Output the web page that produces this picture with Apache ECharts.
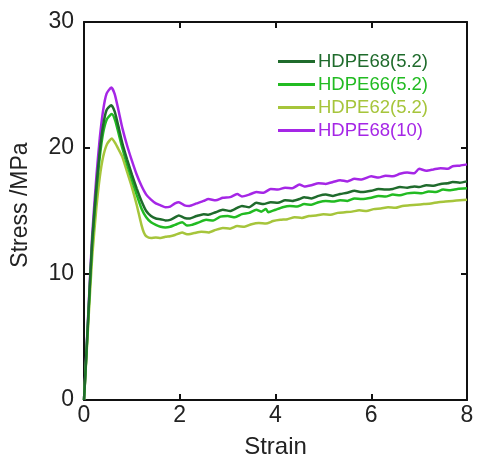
<!DOCTYPE html>
<html>
<head>
<meta charset="utf-8">
<script src="https://cdn.jsdelivr.net/npm/echarts@6/dist/echarts.min.js"></script>
<style>
  html, body { margin: 0; padding: 0; background: #fff; }
  #chart { width: 477px; height: 464px; }
</style>
</head>
<body>
<div id="chart"></div>
<script>
// names of the samples, in legend order
var seriesNames = ['HDPE68(5.2)', 'HDPE66(5.2)', 'HDPE62(5.2)', 'HDPE68(10)'];
var seriesColors = ['#1f6b2c', '#22bb22', '#a6c53b', '#a526e6'];

var xTicks = [0, 2, 4, 6, 8];
var yTicks = [0, 10, 20, 30];

// [strain, stress]
var hdpe68_52 = [
  [0,0],[0.05,3.7],[0.1,7.5],[0.17,12.6],[0.26,17.0],[0.33,19.8],[0.4,21.8],[0.47,23.0],[0.57,23.4],
  [0.64,22.9],[0.72,21.7],[0.8,20.4],[0.9,19.1],[1.0,17.9],[1.1,16.8],[1.2,15.8],[1.3,15.0],[1.4,14.6],[1.5,14.4],
  [1.6,14.35],[1.7,14.25],[1.8,14.3],[1.9,14.5],[1.98,14.65],[2.1,14.45],[2.2,14.4],[2.35,14.6],[2.5,14.75],[2.6,14.7],
  [2.75,14.9],[2.9,15.1],[3.05,15.0],[3.2,15.25],[3.3,15.4],[3.45,15.3],[3.6,15.65],[3.75,15.55],[3.9,15.7],[4.05,15.65],
  [4.2,15.85],[4.35,15.8],[4.5,15.95],[4.6,16.1],[4.75,16.0],[4.9,16.2],[5.05,16.3],[5.2,16.2],[5.35,16.35],[5.5,16.45],
  [5.65,16.6],[5.8,16.5],[6.0,16.6],[6.15,16.75],[6.3,16.7],[6.45,16.75],[6.6,16.9],[6.75,16.85],[6.9,16.95],[7.0,16.9],
  [7.15,17.05],[7.3,17.0],[7.45,17.15],[7.6,17.2],[7.7,17.3],[7.85,17.25],[8.0,17.35]
];
var hdpe66_52 = [
  [0,0],[0.05,3.6],[0.1,7.3],[0.17,12.3],[0.26,16.6],[0.33,19.3],[0.4,21.2],[0.48,22.3],[0.58,22.7],
  [0.65,22.2],[0.72,21.2],[0.8,20.0],[0.9,18.7],[1.0,17.5],[1.1,16.3],[1.2,15.2],[1.3,14.5],[1.4,14.1],[1.5,13.9],
  [1.6,13.75],[1.7,13.7],[1.8,13.75],[1.9,13.9],[2.05,14.1],[2.15,13.85],[2.25,13.9],[2.4,14.1],[2.55,14.3],[2.7,14.25],
  [2.85,14.55],[3.0,14.6],[3.15,14.5],[3.3,14.75],[3.45,14.85],[3.6,15.1],[3.7,14.95],[3.8,15.15],[3.85,14.9],[4.0,15.1],
  [4.15,15.3],[4.3,15.4],[4.45,15.35],[4.6,15.55],[4.75,15.5],[4.9,15.7],[5.05,15.8],[5.2,15.75],[5.35,15.85],[5.5,15.8],
  [5.65,16.0],[5.8,15.95],[6.0,16.05],[6.15,16.2],[6.3,16.15],[6.45,16.3],[6.6,16.25],[6.75,16.4],[6.9,16.45],[7.05,16.4],
  [7.2,16.55],[7.35,16.5],[7.5,16.7],[7.65,16.65],[7.8,16.75],[8.0,16.8]
];
var hdpe62_52 = [
  [0,0],[0.05,3.4],[0.1,6.8],[0.17,11.3],[0.26,15.3],[0.33,17.7],[0.4,19.3],[0.48,20.3],[0.58,20.75],
  [0.65,20.4],[0.72,19.9],[0.8,19.3],[0.9,18.1],[1.0,16.9],[1.1,15.5],[1.2,13.9],[1.25,13.3],[1.3,13.0],[1.4,12.85],
  [1.5,12.9],[1.6,12.85],[1.7,12.95],[1.8,13.0],[1.9,13.1],[2.05,13.3],[2.15,13.15],[2.3,13.25],[2.45,13.35],[2.6,13.3],
  [2.75,13.5],[2.9,13.65],[3.05,13.6],[3.2,13.8],[3.35,13.75],[3.5,13.95],[3.65,14.05],[3.8,14.0],[3.95,14.2],[4.1,14.3],
  [4.25,14.35],[4.4,14.5],[4.55,14.45],[4.7,14.6],[4.85,14.65],[5.0,14.75],[5.15,14.7],[5.3,14.85],[5.45,14.9],[5.6,14.95],
  [5.75,15.05],[5.9,15.0],[6.05,15.15],[6.2,15.2],[6.35,15.3],[6.5,15.25],[6.65,15.4],[6.8,15.45],[6.95,15.5],[7.1,15.55],
  [7.25,15.6],[7.4,15.7],[7.55,15.75],[7.7,15.8],[7.85,15.85],[8.0,15.9]
];
var hdpe68_10 = [
  [0,0],[0.05,3.8],[0.1,7.7],[0.17,13.0],[0.26,17.8],[0.33,20.8],[0.4,23.0],[0.47,24.3],[0.57,24.8],
  [0.64,24.3],[0.72,23.0],[0.8,21.6],[0.9,20.2],[1.0,19.0],[1.1,17.9],[1.2,17.0],[1.3,16.3],[1.4,15.9],[1.5,15.6],
  [1.6,15.45],[1.7,15.3],[1.8,15.35],[1.9,15.6],[1.98,15.7],[2.1,15.45],[2.2,15.4],[2.35,15.6],[2.5,15.8],[2.6,15.95],
  [2.75,15.85],[2.9,16.05],[3.05,16.1],[3.2,16.35],[3.3,16.15],[3.45,16.3],[3.6,16.5],[3.75,16.45],[3.9,16.75],[4.05,16.7],
  [4.2,16.85],[4.35,16.8],[4.5,17.1],[4.6,16.95],[4.75,17.05],[4.9,17.2],[5.05,17.15],[5.2,17.3],[5.35,17.45],[5.5,17.35],
  [5.65,17.55],[5.8,17.5],[6.0,17.75],[6.15,17.65],[6.3,17.8],[6.45,17.75],[6.6,17.95],[6.75,18.05],[6.9,18.0],[7.0,18.35],
  [7.15,18.2],[7.3,18.3],[7.45,18.4],[7.6,18.35],[7.7,18.55],[7.85,18.6],[8.0,18.7]
];
var seriesData = [hdpe68_52, hdpe66_52, hdpe62_52, hdpe68_10];

var font = 'Liberation Sans, Arial, sans-serif';
var chart = echarts.init(document.getElementById('chart'));

function axisBase(extra) {
  var base = {
    axisLine: { show: true, onZero: false, lineStyle: { color: '#111', width: 2 } },
    axisTick: { show: true, inside: true, length: 6, lineStyle: { color: '#111', width: 2 } },
    splitLine: { show: false }
  };
  return Object.assign(base, extra);
}

var option = {
  animation: false,
  backgroundColor: '#fff',
  grid: { left: 84, top: 22, width: 383, height: 383, containLabel: false },
  legend: {
    orient: 'vertical',
    left: 278,
    top: 52,
    padding: 0,
    itemWidth: 37,
    itemHeight: 3,
    itemGap: 4,
    icon: 'rect',
    data: seriesNames.map(function (n, i) {
      return { name: n, textStyle: { color: seriesColors[i] } };
    }),
    textStyle: { fontFamily: font, fontSize: 18.5, padding: [0, 0, 0, -2] }
  },
  xAxis: [
    axisBase({
      type: 'value', min: 0, max: 8, interval: 2,
      name: 'Strain', nameLocation: 'middle', nameGap: 35,
      nameTextStyle: { fontFamily: font, fontSize: 24, color: '#222' },
      axisLabel: { fontFamily: font, fontSize: 23, color: '#222', margin: 4,
        formatter: function (v) { return xTicks.indexOf(v) >= 0 ? String(v) : ''; } }
    }),
    axisBase({
      type: 'value', min: 0, max: 8, interval: 2, position: 'top',
      axisLabel: { show: false }
    })
  ],
  yAxis: [
    axisBase({
      type: 'value', min: 0, max: 30, interval: 10,
      name: 'Stress /MPa', nameLocation: 'middle', nameGap: 52, nameRotate: 90,
      nameTextStyle: { fontFamily: font, fontSize: 23, color: '#222', padding: [0, 0, 0, 12] },
      axisLabel: { fontFamily: font, fontSize: 23, color: '#222', margin: 10, padding: [0, 0, 8, 0],
        formatter: function (v) { return yTicks.indexOf(v) >= 0 ? String(v) : ''; } }
    }),
    axisBase({
      type: 'value', min: 0, max: 30, interval: 10, position: 'right',
      axisLabel: { show: false }
    })
  ],
  series: seriesNames.map(function (n, i) {
    return {
      name: n,
      type: 'line',
      data: seriesData[i],
      showSymbol: false,
      symbol: 'none',
      smooth: 0.2,
      lineStyle: { color: seriesColors[i], width: 2.5 },
      itemStyle: { color: seriesColors[i] },
      z: 2 + (3 - i)
    };
  })
};
chart.setOption(option);
</script>
</body>
</html>
